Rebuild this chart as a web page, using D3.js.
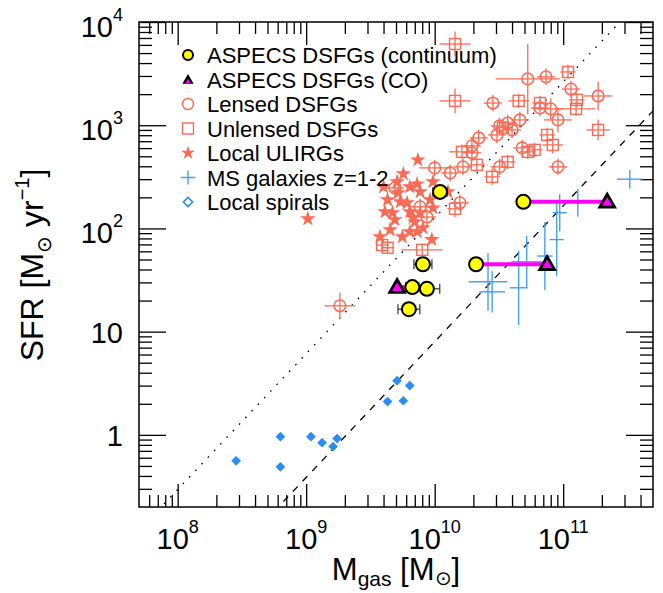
<!DOCTYPE html>
<html>
<head>
<meta charset="utf-8">
<script src="https://cdn.jsdelivr.net/npm/d3@7"></script>
<style>
  body { margin: 0; background: #fff; }
  svg { font-family: "Liberation Sans", Arial, Helvetica, sans-serif; }
</style>
</head>
<body>
<svg id="chart" width="663" height="593"></svg>
<script>
// values (Mgas in Msun, SFR in Msun/yr)
const xDomain = [5e7, 5e11];
const yDomain = [0.2, 1e4];
const xMajor = [1e8, 1e9, 1e10, 1e11];
const xMajorExp = ["8", "9", "10", "11"];
const yMajor = [1, 10, 100, 1000, 10000];
const yMajorLabels = [["1", ""], ["10", ""], ["10", "2"], ["10", "3"], ["10", "4"]];

// log SFR = slope * log Mgas + icpt
const relDotted = { slope: 1.316, icpt: -11.057 };
const relDashed = { slope: 1.316, icpt: -12.257 };

// [Mgas, SFR, xerr dex, yerr dex]
const aspecsCont = [
  [1.1e10, 226, 0.055, 0.03],
  [4.9e10, 181, 0.03, 0.02],
  [2.1e10, 45, 0.04, 0.03],
  [8.1e9, 45, 0.07, 0.03],
  [6.7e9, 27, 0.05, 0.03],
  [8.7e9, 26, 0.1, 0.03],
  [6.3e9, 16.5, 0.085, 0.04]
];
const aspecsCO = [[5.1e9, 27], [7.5e10, 45], [2.2e11, 181]];
// [CO index, continuum index]
const coLinks = [[0, 4], [1, 2], [2, 1]];

const lensed = [
  [5.3e10, 2810, 0.25, 0.34],
  [7.35e10, 2940, 0.07, 0.08],
  [1.15e11, 2240, 0.07, 0.08],
  [1.87e11, 1920, 0.11, 0.14],
  [2.84e10, 1640, 0.07, 0.08],
  [8.0e10, 1440, 0.1, 0.1],
  [6.6e10, 1470, 0.07, 0.08],
  [9.1e10, 1125, 0.11, 0.12],
  [4.6e10, 1125, 0.07, 0.08],
  [3.2e10, 985, 0.07, 0.08],
  [3.7e10, 1050, 0.07, 0.08],
  [4.0e10, 900, 0.07, 0.08],
  [3.05e10, 805, 0.07, 0.08],
  [2.2e10, 753, 0.07, 0.08],
  [1.95e10, 631, 0.07, 0.08],
  [1.95e10, 540, 0.07, 0.08],
  [4.8e10, 603, 0.07, 0.08],
  [9.1e10, 395, 0.07, 0.08],
  [1.66e10, 395, 0.07, 0.08],
  [1.32e10, 345, 0.07, 0.08],
  [1.0e10, 386, 0.12, 0.08],
  [3.2e10, 395, 0.07, 0.08],
  [1.57e10, 177, 0.07, 0.08],
  [8.7e9, 129, 0.07, 0.08],
  [7.7e9, 162, 0.07, 0.08],
  [4.9e9, 247, 0.07, 0.08],
  [1.83e9, 17.8, 0.12, 0.13]
];

const unlensed = [
  [1.44e10, 6120, 0.12, 0.12],
  [1.09e11, 3280, 0.06, 0.07],
  [1.44e10, 1720, 0.12, 0.12],
  [4.5e10, 1720, 0.08, 0.07],
  [6.6e10, 1640, 0.06, 0.07],
  [1.28e11, 1760, 0.06, 0.07],
  [1.26e11, 1440, 0.15, 0.07],
  [7.5e10, 805, 0.06, 0.07],
  [8.3e10, 644, 0.08, 0.08],
  [5.3e10, 552, 0.06, 0.07],
  [6.0e10, 577, 0.06, 0.07],
  [1.63e10, 552, 0.1, 0.07],
  [2.13e10, 413, 0.06, 0.07],
  [3.7e10, 441, 0.06, 0.07],
  [2.8e10, 316, 0.06, 0.08],
  [1.44e10, 155, 0.06, 0.08],
  [3.9e9, 69, 0.05, 0.06],
  [4.3e9, 65, 0.05, 0.06],
  [8.0e9, 62, 0.16, 0.06],
  [1.87e11, 900, 0.09, 0.1],
  [3.4e10, 950, 0.06, 0.07]
];

const ulirgs = [
  [7.4e9, 461], [5.7e9, 338], [4.0e9, 253], [5.1e9, 283], [6.4e9, 253],
  [7.3e9, 270], [7.7e9, 226], [9.7e9, 283], [1.27e10, 226], [4.3e9, 189],
  [5.4e9, 181], [6.1e9, 177], [9.2e9, 189], [4.1e9, 145], [4.7e9, 142],
  [6.4e9, 145], [6.8e9, 127], [7.7e9, 142], [9.7e9, 158], [4.9e9, 121],
  [7.0e9, 116], [4.5e9, 97], [5.6e9, 83], [6.4e9, 93], [7.3e9, 93],
  [3.75e9, 83], [9.5e9, 78], [1.03e9, 124], [8.1e9, 101], [5.2e9, 221]
];

const msGals = [
  [3.3e11, 300, 0.1, 0.09],
  [1.3e11, 177, 0.02, 0.135],
  [9.4e10, 142, 0.055, 0.18],
  [8.9e10, 78, 0.055, 0.35],
  [7.2e10, 54, 0.06, 0.33],
  [5.2e10, 47.5, 0.12, 0.25],
  [4.5e10, 26.6, 0.07, 0.36],
  [2.6e10, 30.4, 0.15, 0.28],
  [2.8e10, 24.3, 0.1, 0.2]
];

const spirals = [
  [2.85e8, 0.56], [6.3e8, 0.96], [6.3e8, 0.49], [1.09e9, 0.96], [1.33e9, 0.84],
  [1.62e9, 0.77], [1.74e9, 0.92], [4.3e9, 2.1], [5.1e9, 3.35], [5.7e9, 2.14], [6.4e9, 3.0]
];

const legendLabels = [
  "ASPECS DSFGs (continuum)", "ASPECS DSFGs (CO)", "Lensed DSFGs", "Unlensed DSFGs",
  "Local ULIRGs", "MS galaxies z=1-2", "Local spirals"
];

const RED = "#fb6a55", BLUE = "#45a0f2", DBLUE = "#2b8cf2", MAG = "#ff00ff";
const L = 139, R = 653, T = 22, B = 507;

const svg = d3.select("#chart");
const x = d3.scaleLog().domain(xDomain).range([L, R]);
const y = d3.scaleLog().domain(yDomain).range([B, T]);

svg.append("defs").append("clipPath").attr("id", "plot")
  .append("rect").attr("x", L).attr("y", T).attr("width", R - L).attr("height", B - T);

// minor tick values 2..9 per decade
function minors(dom) {
  const out = [];
  for (let e = -2; e <= 12; e++)
    for (let k = 2; k <= 9; k++) {
      const v = k * Math.pow(10, e);
      if (v > dom[0] * 1.0001 && v < dom[1] * 0.9999) out.push(v);
    }
  return out;
}
const xMinor = minors(xDomain), yMinor = minors(yDomain);

function tickAxis(axis, tx, ty) {
  svg.append("g").attr("transform", `translate(${tx},${ty})`)
    .call(axis.tickFormat(""))
    .call(g => g.select(".domain").remove())
    .call(g => g.selectAll("line").attr("stroke", "#000").attr("stroke-width", 1.3));
}
tickAxis(d3.axisBottom(x).tickValues(xMajor).tickSize(-23), 0, B);
tickAxis(d3.axisTop(x).tickValues(xMajor).tickSize(-23), 0, T);
tickAxis(d3.axisBottom(x).tickValues(xMinor).tickSize(-12), 0, B);
tickAxis(d3.axisTop(x).tickValues(xMinor).tickSize(-12), 0, T);
tickAxis(d3.axisLeft(y).tickValues(yMajor).tickSize(-27), L, 0);
tickAxis(d3.axisRight(y).tickValues(yMajor).tickSize(-27), R, 0);
tickAxis(d3.axisLeft(y).tickValues(yMinor).tickSize(-13), L, 0);
tickAxis(d3.axisRight(y).tickValues(yMinor).tickSize(-13), R, 0);

// tick labels
xMajor.forEach((v, i) => {
  const t = svg.append("text").attr("x", x(v)).attr("y", 549)
    .attr("text-anchor", "middle").attr("font-size", 29);
  t.append("tspan").text("10");
  t.append("tspan").attr("font-size", 18).attr("dy", -16).text(xMajorExp[i]);
});
yMajor.forEach((v, i) => {
  const [base, sup] = yMajorLabels[i];
  const t = svg.append("text").attr("x", 123).attr("y", y(v) + (sup ? 15 : 11))
    .attr("text-anchor", "end").attr("font-size", 29);
  t.append("tspan").text(base);
  if (sup) t.append("tspan").attr("font-size", 18).attr("dy", -16).text(sup);
});

// axis titles
const yt = svg.append("text").attr("transform", "translate(43,265) rotate(-90)")
  .attr("text-anchor", "middle").attr("font-size", 32);
yt.append("tspan").text("SFR [M");
yt.append("tspan").attr("font-size", 20).attr("dy", 8).text("\u2299");
yt.append("tspan").attr("dy", -8).text(" yr");
yt.append("tspan").attr("font-size", 20).attr("dy", -14).text("\u22121");
yt.append("tspan").attr("dy", 14).text("]");

const xt = svg.append("text").attr("x", 396).attr("y", 580)
  .attr("text-anchor", "middle").attr("font-size", 31);
xt.append("tspan").text("M");
xt.append("tspan").attr("font-size", 21).attr("dy", 6).text("gas");
xt.append("tspan").attr("dy", -6).text(" [M");
xt.append("tspan").attr("font-size", 20).attr("dy", 5).text("\u2299");
xt.append("tspan").attr("dy", -5).text("]");

const plot = svg.append("g").attr("clip-path", "url(#plot)");

// reference relations
const relLine = d3.line().x(d => x(d[0])).y(d => y(d[1]));
[[relDotted, "1.6,7.5"], [relDashed, "7,7"]].forEach(([rel, dash]) => {
  const pts = xDomain.map(m => [m, Math.pow(10, rel.icpt + rel.slope * Math.log10(m))]);
  plot.append("path").attr("d", relLine(pts)).attr("fill", "none")
    .attr("stroke", "#000").attr("stroke-width", 1.3).attr("stroke-dasharray", dash);
});

function errBars(g, data, color, width, caps) {
  data.forEach(d => {
    const [m, s, xe, ye] = d;
    const cx = x(m), cy = y(s);
    const x0 = x(m / Math.pow(10, xe)), x1 = x(m * Math.pow(10, xe));
    const y0 = y(s / Math.pow(10, ye)), y1 = y(s * Math.pow(10, ye));
    g.append("line").attr("x1", x0).attr("x2", x1).attr("y1", cy).attr("y2", cy)
      .attr("stroke", color).attr("stroke-width", width);
    g.append("line").attr("x1", cx).attr("x2", cx).attr("y1", y0).attr("y2", y1)
      .attr("stroke", color).attr("stroke-width", width);
    if (caps) {
      [x0, x1].forEach(xx => g.append("line").attr("x1", xx).attr("x2", xx)
        .attr("y1", cy - 5).attr("y2", cy + 5).attr("stroke", color).attr("stroke-width", width));
      [y0, y1].forEach(yy => g.append("line").attr("x1", cx - 5).attr("x2", cx + 5)
        .attr("y1", yy).attr("y2", yy).attr("stroke", color).attr("stroke-width", width));
    }
  });
}

// unlensed DSFGs (open squares)
errBars(plot, unlensed, RED, 1.3, false);
plot.selectAll(".sq").data(unlensed).join("rect")
  .attr("x", d => x(d[0]) - 5.5).attr("y", d => y(d[1]) - 5.5)
  .attr("width", 11).attr("height", 11)
  .attr("fill", "none").attr("stroke", RED).attr("stroke-width", 1.4);

// lensed DSFGs (open circles)
errBars(plot, lensed, RED, 1.3, false);
plot.selectAll(".lc").data(lensed).join("circle")
  .attr("cx", d => x(d[0])).attr("cy", d => y(d[1])).attr("r", 5.8)
  .attr("fill", "none").attr("stroke", RED).attr("stroke-width", 1.6);

// local ULIRGs (stars)
const star = d3.symbol().type(d3.symbolStar).size(75);
plot.selectAll(".st").data(ulirgs).join("path")
  .attr("transform", d => `translate(${x(d[0])},${y(d[1])})`)
  .attr("d", star).attr("fill", RED);

// MS galaxies z=1-2 (error crosses)
errBars(plot, msGals, BLUE, 1.4, false);

// local spirals (filled diamonds)
const diamond = d3.symbol().type(d3.symbolDiamond2).size(60);
plot.selectAll(".dm").data(spirals).join("path")
  .attr("transform", d => `translate(${x(d[0])},${y(d[1])})`)
  .attr("d", diamond).attr("fill", DBLUE);

// ASPECS: links, error bars, circles, triangles
coLinks.forEach(([ci, ki]) => {
  plot.append("line")
    .attr("x1", x(aspecsCO[ci][0])).attr("y1", y(aspecsCO[ci][1]))
    .attr("x2", x(aspecsCont[ki][0])).attr("y2", y(aspecsCont[ki][1]))
    .attr("stroke", MAG).attr("stroke-width", 4);
});
errBars(plot, aspecsCont, "#333", 1.2, true);
const tri = d3.symbol().type(d3.symbolTriangle).size(95);
plot.selectAll(".co").data(aspecsCO).join("path")
  .attr("transform", d => `translate(${x(d[0])},${y(d[1]) + 1})`)
  .attr("d", tri).attr("fill", MAG).attr("stroke", "#000").attr("stroke-width", 2.8);
plot.selectAll(".ac").data(aspecsCont).join("circle")
  .attr("cx", d => x(d[0])).attr("cy", d => y(d[1])).attr("r", 7)
  .attr("fill", "#ffff00").attr("stroke", "#000").attr("stroke-width", 2);

// frame
svg.append("rect").attr("x", L).attr("y", T).attr("width", R - L).attr("height", B - T)
  .attr("fill", "none").attr("stroke", "#000").attr("stroke-width", 1.5);

// legend
const lg = svg.append("g");
const rowY = i => 55 + i * 24.5;
legendLabels.forEach((lab, i) => {
  lg.append("text").attr("x", 207).attr("y", rowY(i) + 8).attr("font-size", 22).text(lab);
});
const sx = 188;
lg.append("circle").attr("cx", sx).attr("cy", rowY(0)).attr("r", 5)
  .attr("fill", "#ffff00").attr("stroke", "#000").attr("stroke-width", 2);
lg.append("path").attr("transform", `translate(${sx},${rowY(1) + 1})`)
  .attr("d", d3.symbol().type(d3.symbolTriangle).size(55)).attr("fill", "#000");
lg.append("path").attr("transform", `translate(${sx},${rowY(1) + 2})`)
  .attr("d", d3.symbol().type(d3.symbolTriangle).size(10)).attr("fill", MAG);
lg.append("circle").attr("cx", sx).attr("cy", rowY(2)).attr("r", 5.5)
  .attr("fill", "none").attr("stroke", RED).attr("stroke-width", 1.4);
lg.append("rect").attr("x", sx - 5.5).attr("y", rowY(3) - 5.5).attr("width", 11).attr("height", 11)
  .attr("fill", "none").attr("stroke", RED).attr("stroke-width", 1.4);
lg.append("path").attr("transform", `translate(${sx},${rowY(4)})`)
  .attr("d", d3.symbol().type(d3.symbolStar).size(60)).attr("fill", RED);
lg.append("path").attr("transform", `translate(${sx},${rowY(5)})`)
  .attr("d", "M-7,0H7M0,-7V7").attr("stroke", BLUE).attr("stroke-width", 1.4);
lg.append("path").attr("transform", `translate(${sx},${rowY(6)})`)
  .attr("d", d3.symbol().type(d3.symbolDiamond2).size(55))
  .attr("fill", "none").attr("stroke", DBLUE).attr("stroke-width", 1.6);
</script>
</body>
</html>
